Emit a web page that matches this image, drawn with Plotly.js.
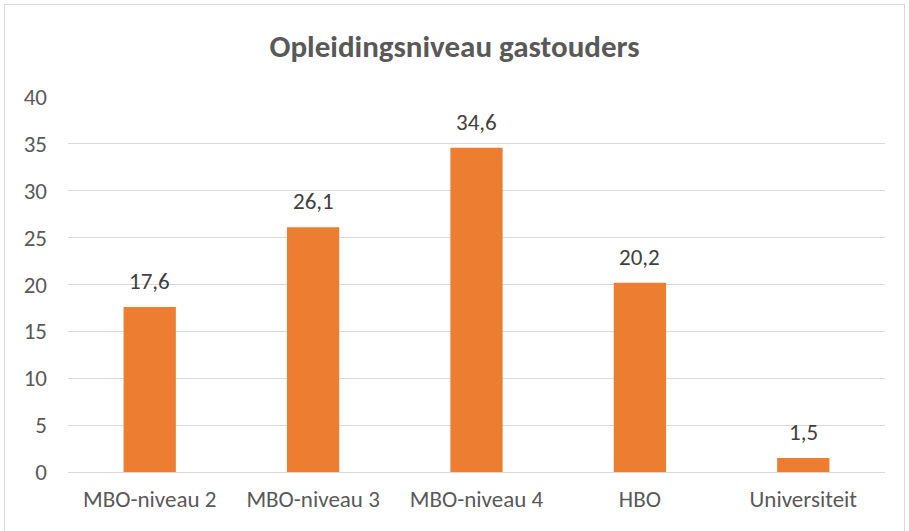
<!DOCTYPE html>
<html>
<head>
<meta charset="utf-8">
<script src="https://cdn.plot.ly/plotly-3.0.1.min.js"></script>
<style>
body{margin:0;background:#fff;}
#chart{width:909px;height:531px;}
#rand{position:absolute;left:4px;top:4px;width:901px;height:530px;border:1.5px solid #d9d9d9;box-sizing:border-box;pointer-events:none;}
</style>
</head>
<body>
<div id="chart"></div>
<div id="rand"></div>
<script>
// opleidingsniveau gastouders (%)
var niveaus = ['MBO-niveau 2', 'MBO-niveau 3', 'MBO-niveau 4', 'HBO', 'Universiteit'];
var percentages = [17.6, 26.1, 34.6, 20.2, 1.5];
var y_ticks = [0, 5, 10, 15, 20, 25, 30, 35, 40];

var grijs = '#595959';
var lettertype = 'Calibri, Carlito, Lato, sans-serif';

function komma(getal){ return getal.toFixed(1).replace('.', ','); }

var staaf = {
    x: niveaus,
    y: percentages,
    type: 'bar',
    marker: {color: '#ed7d31'},
    hoverinfo: 'none'
};

// labels boven de staven
var labels = [];
for (var i = 0; i < niveaus.length; i++){
    labels.push({
        x: niveaus[i], y: percentages[i],
        text: komma(percentages[i]),
        showarrow: false, yanchor: 'bottom', yshift: 10,
        font: {family: lettertype, size: 23, color: '#404040'}
    });
}

var layout = {
    width: 909, height: 531,
    margin: {l: 68, r: 24, t: 97, b: 59},
    paper_bgcolor: '#fff', plot_bgcolor: '#fff',
    bargap: 0.68,
    showlegend: false,
    title: {
        text: '<b>Opleidingsniveau gastouders</b>',
        font: {family: lettertype, size: 31, color: grijs},
        x: 0.5, xanchor: 'center', yref: 'container', y: 1 - 46/531, yanchor: 'middle'
    },
    xaxis: {
        tickfont: {family: lettertype, size: 23, color: grijs},
        showline: false, ticks: '', ticklabelstandoff: 11
    },
    yaxis: {
        range: [0, 40], tickvals: y_ticks,
        tickfont: {family: lettertype, size: 23, color: grijs},
        gridcolor: '#d9d9d9', gridwidth: 1, zeroline: true, zerolinecolor: '#d9d9d9', zerolinewidth: 1,
        showline: false, ticks: '', ticklabelstandoff: 20
    },
    annotations: labels
};

Plotly.newPlot('chart', [staaf], layout, {staticPlot: true});
</script>
</body>
</html>
